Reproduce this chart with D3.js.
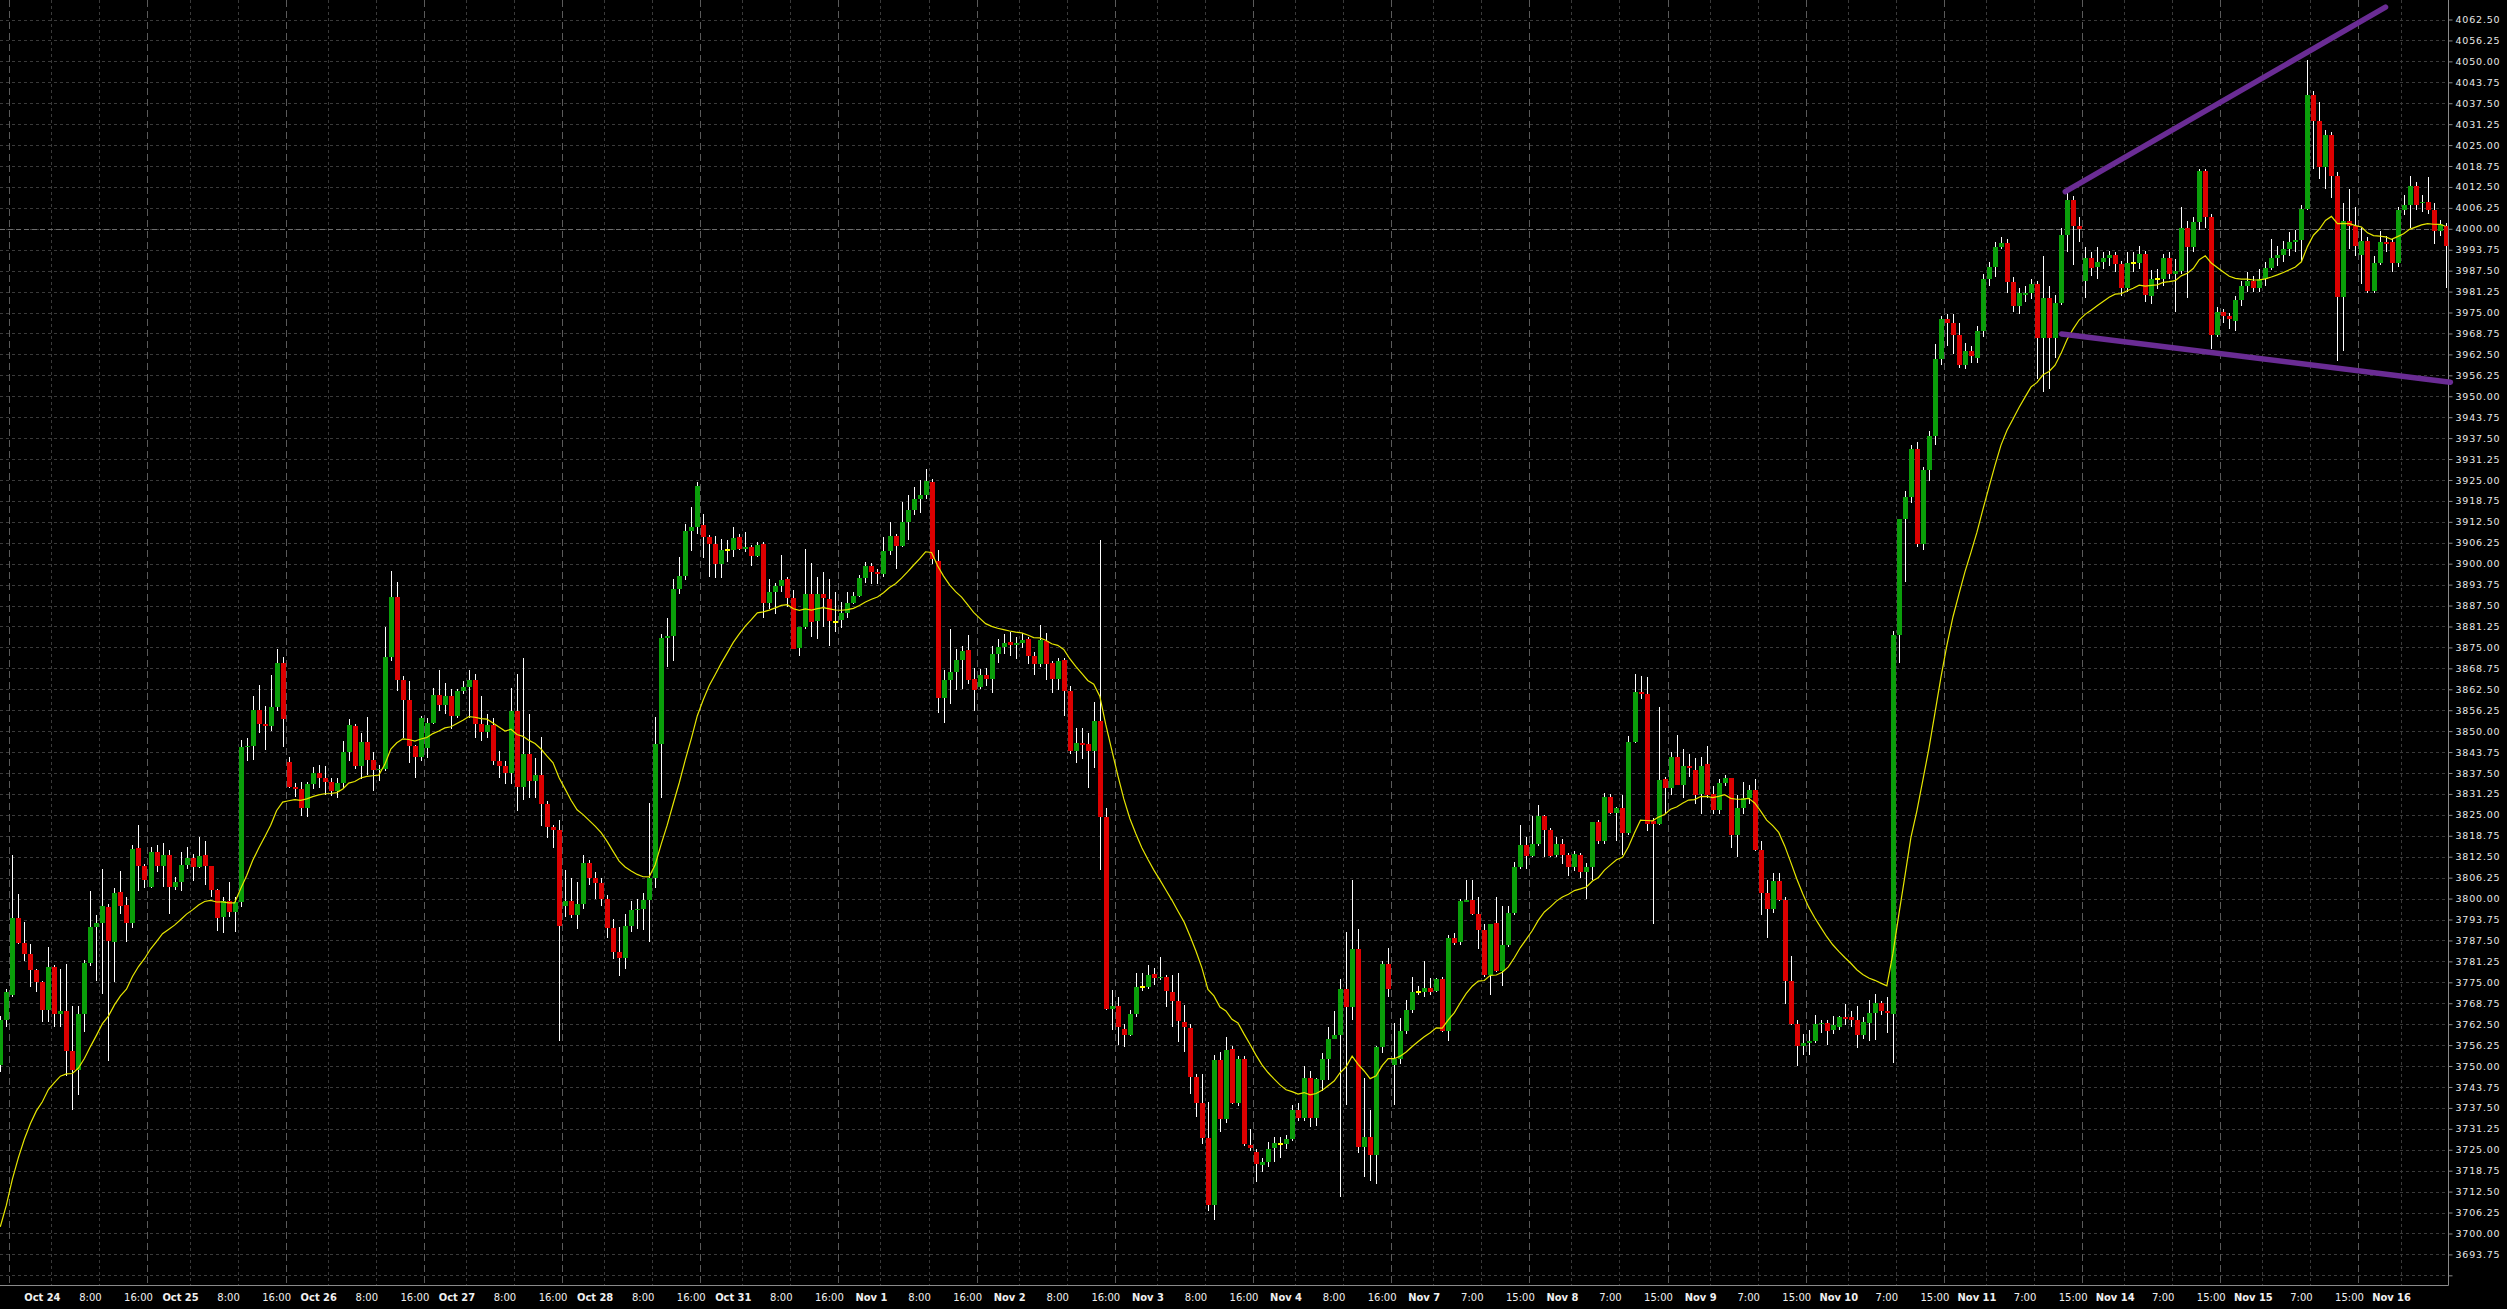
<!DOCTYPE html>
<html><head><meta charset="utf-8">
<script src="https://cdn.jsdelivr.net/npm/d3@7"></script>
<style>html,body{margin:0;padding:0;background:#000;overflow:hidden}</style>
</head><body>
<svg id="c" width="2507" height="1309"></svg>
<script>
// ---- DATA (hourly bars) ----
const open = [
3750.2,3763.6,3771.1,3794.3,3786.7,3783.6,3778.8,3775.2,3766.6,3779.5,
3765.6,3766.3,3754.6,3748.9,3765.6,3780.7,3791.4,3792.6,3797.6,3787.0,
3802.1,3798.2,3792.7,3815.0,3809.6,3803.4,3813.8,3809.6,3812.9,3803.6,
3804.9,3809.9,3812.0,3809.3,3812.9,3809.6,3802.7,3794.5,3799.4,3796.1,
3799.0,3845.2,3845.5,3856.4,3852.2,3851.6,3857.2,3870.4,3840.9,3833.4,
3832.8,3827.1,3834.2,3837.4,3836.0,3834.8,3832.0,3834.5,3843.7,3851.6,
3839.6,3846.8,3841.4,3838.3,3838.8,3872.2,3890.2,3865.4,3859.4,3845.5,
3842.4,3845.0,3852.5,3860.9,3857.7,3860.4,3854.6,3861.9,3863.2,3865.3,
3852.1,3849.6,3851.8,3841.1,3839.5,3837.6,3856.0,3833.2,3843.2,3835.1,
3836.9,3828.3,3821.4,3820.4,3797.8,3799.3,3795.2,3798.4,3810.6,3806.0,
3804.7,3800.0,3791.2,3784.0,3782.3,3791.8,3796.5,3796.8,3799.5,3806.2,
3846.3,3877.8,3878.5,3892.3,3896.4,3909.7,3910.9,3911.7,3907.9,3906.0,
3899.8,3904.2,3904.2,3907.9,3904.5,3904.9,3902.3,3906.0,3888.3,3891.6,
3893.4,3895.3,3889.8,3874.8,3881.2,3890.9,3882.9,3890.9,3889.4,3882.7,
3883.2,3885.4,3888.3,3890.4,3895.8,3899.3,3897.5,3896.8,3903.8,3908.4,
3905.4,3912.5,3916.1,3919.4,3920.6,3924.4,3900.8,3859.9,3865.3,3867.6,
3871.1,3874.1,3865.6,3863.1,3866.8,3865.6,3873.0,3875.1,3876.6,3875.7,
3876.3,3877.5,3872.3,3870.1,3877.0,3870.4,3865.6,3871.1,3861.9,3844.1,
3846.6,3846.3,3844.1,3853.0,3824.5,3767.1,3767.8,3761.2,3759.4,3765.6,
3773.5,3773.5,3777.6,3776.2,3776.5,3772.0,3769.5,3763.1,3761.3,3746.7,
3739.0,3728.6,3708.6,3751.7,3734.1,3755.2,3739.0,3752.2,3726.4,3724.2,
3720.4,3721.4,3725.5,3726.6,3726.6,3728.2,3736.9,3734.4,3746.5,3734.4,
3745.8,3752.0,3758.1,3759.2,3772.9,3767.5,3784.9,3725.9,3728.7,3723.4,
3755.7,3780.5,3750.2,3752.0,3760.6,3766.6,3772.1,3772.1,3773.2,3772.5,
3776.0,3760.6,3788.3,3786.9,3799.0,3799.5,3795.4,3790.6,3777.3,3792.6,
3778.3,3786.2,3795.6,3809.5,3816.0,3812.7,3816.4,3824.6,3820.4,3813.0,
3816.4,3813.0,3809.5,3813.0,3807.8,3809.3,3823.0,3817.1,3830.4,3825.7,
3827.0,3819.6,3846.8,3861.6,3861.0,3823.3,3822.3,3835.6,3833.1,3842.3,
3833.9,3839.7,3838.3,3831.1,3840.1,3831.1,3826.4,3834.5,3835.9,3819.0,
3827.0,3830.1,3832.4,3814.6,3801.7,3796.8,3805.2,3799.5,3775.5,3762.5,
3756.1,3757.0,3757.4,3762.5,3762.9,3760.9,3761.8,3764.7,3764.7,3763.6,
3759.2,3762.9,3765.7,3768.8,3766.4,3765.6,3878.8,3913.3,3920.0,3934.3,
3906.0,3928.0,3938.0,3961.1,3973.0,3972.0,3968.2,3959.4,3963.6,3961.5,
3969.5,3985.0,3988.7,3994.6,3995.8,3984.1,3976.8,3980.3,3980.8,3983.5,
3967.4,3979.3,3967.4,3977.8,3998.2,4008.6,4000.9,3984.5,3991.4,3988.7,
3990.2,3991.2,3992.3,3989.4,3982.4,3989.8,3989.8,3992.5,3979.9,3985.0,
3985.0,3991.2,3986.6,3987.5,4000.2,3994.6,4002.1,4017.2,4003.4,3968.2,
3975.1,3974.1,3972.4,3978.7,3982.9,3984.5,3982.4,3985.0,3988.3,3991.2,
3992.3,3994.0,3996.1,3996.7,4005.9,4040.0,4032.1,4018.5,4027.9,4015.9,
3979.7,4002.3,4000.9,3992.3,3996.5,3981.4,3989.8,3996.1,3996.1,3989.8,
4005.5,4007.2,4012.8,4007.6,4008.0,4005.5,3999.2,4000.9];
const high = [
3765.0,3773.1,3813.1,3801.4,3792.9,3786.3,3779.0,3775.5,3785.4,3780.3,
3779.0,3780.5,3767.8,3767.8,3781.7,3802.4,3795.0,3808.7,3798.4,3803.2,
3808.1,3800.4,3816.1,3822.1,3810.4,3815.4,3815.9,3816.7,3814.4,3806.4,
3813.9,3815.5,3813.4,3818.3,3817.3,3809.6,3802.9,3800.6,3805.1,3800.4,
3847.4,3848.1,3860.4,3863.8,3857.5,3866.7,3874.5,3872.2,3842.2,3834.6,
3834.9,3834.9,3839.3,3839.8,3839.5,3836.0,3836.0,3847.1,3853.7,3852.0,
3849.3,3854.1,3843.7,3840.0,3881.1,3897.7,3894.6,3866.5,3865.0,3846.0,
3854.5,3854.0,3862.9,3868.2,3864.4,3862.5,3862.5,3865.0,3868.2,3867.0,
3860.4,3855.0,3854.0,3844.0,3841.0,3863.0,3867.2,3871.8,3855.0,3842.0,
3848.3,3829.0,3822.0,3823.6,3808.5,3806.0,3805.0,3813.1,3811.6,3808.0,
3806.0,3801.0,3794.0,3791.5,3795.3,3799.3,3800.0,3801.7,3828.5,3854.2,
3879.0,3883.7,3895.3,3902.0,3911.9,3916.9,3924.4,3914.9,3908.7,3908.4,
3907.5,3907.2,3910.9,3909.0,3909.4,3905.6,3906.5,3906.5,3895.3,3894.1,
3902.7,3896.1,3892.0,3881.2,3904.5,3900.1,3896.1,3897.5,3895.3,3891.6,
3888.6,3891.6,3891.6,3896.5,3900.5,3900.1,3898.3,3907.9,3912.4,3909.0,
3918.3,3920.6,3922.8,3925.0,3928.3,3925.3,3904.2,3868.3,3880.5,3874.5,
3875.3,3878.7,3868.9,3868.6,3868.9,3875.3,3877.5,3879.0,3879.7,3878.2,
3879.3,3878.2,3873.5,3881.6,3879.3,3870.8,3871.8,3871.8,3863.4,3850.8,
3850.8,3849.3,3858.6,3907.2,3827.0,3772.8,3770.5,3762.4,3766.8,3777.9,
3777.9,3780.2,3779.4,3782.7,3777.2,3777.2,3777.9,3768.3,3762.5,3747.5,
3747.5,3739.3,3753.4,3754.2,3758.6,3756.0,3753.0,3753.0,3731.1,3725.2,
3722.5,3727.3,3728.7,3728.7,3729.3,3738.3,3738.9,3749.9,3748.5,3746.5,
3754.0,3761.6,3766.4,3776.0,3789.9,3805.4,3791.0,3746.5,3736.9,3756.0,
3781.4,3785.3,3762.9,3764.3,3769.8,3776.6,3773.9,3781.4,3776.2,3776.2,
3776.6,3789.0,3789.7,3799.9,3805.4,3805.4,3800.4,3792.4,3792.4,3800.4,
3797.9,3797.9,3810.9,3822.0,3818.5,3824.6,3827.8,3824.9,3821.0,3818.5,
3817.8,3813.7,3814.1,3813.7,3810.5,3823.0,3823.5,3831.5,3831.1,3827.4,
3830.8,3848.6,3867.1,3866.4,3866.2,3824.0,3857.1,3836.3,3843.8,3848.9,
3844.8,3843.1,3842.0,3842.4,3845.6,3833.5,3835.6,3837.0,3836.0,3830.8,
3834.9,3833.8,3835.6,3817.1,3805.4,3807.5,3807.5,3800.4,3782.8,3763.6,
3759.5,3760.9,3765.3,3763.6,3763.6,3765.0,3765.0,3768.4,3766.4,3768.0,
3764.6,3769.8,3771.6,3769.4,3770.5,3880.0,3913.3,3921.7,3935.3,3936.4,
3929.0,3939.5,3965.7,3974.1,3974.5,3974.5,3972.0,3966.0,3965.0,3970.9,
3986.6,3990.0,3996.1,3997.5,3997.1,3985.6,3982.4,3983.0,3985.0,3984.5,
3991.9,3982.9,3980.3,4000.2,4011.3,4009.7,4003.4,3994.6,3993.0,3994.5,
3993.0,3993.5,3993.0,3990.5,3993.0,3993.0,3995.0,3993.3,3987.6,3988.0,
3992.5,3993.0,3991.0,4006.5,4002.3,4003.4,4018.0,4018.0,4004.4,3976.6,
3976.0,3975.0,3980.0,3984.5,3987.0,3986.0,3988.0,3990.0,3997.1,3995.0,
3996.5,3999.0,3999.5,4007.0,4050.5,4041.1,4037.9,4029.6,4028.9,4017.0,
4007.6,4011.8,4006.5,4000.2,3997.5,3991.9,3999.2,3998.0,3997.1,4006.5,
4010.0,4015.9,4013.9,4010.0,4015.5,4007.6,4002.5,4001.7];
const low = [
3748.2,3761.8,3770.6,3786.5,3781.3,3773.6,3772.1,3763.1,3763.1,3761.6,
3761.6,3746.9,3737.0,3741.4,3760.1,3780.0,3775.5,3771.4,3751.5,3775.1,
3795.3,3787.0,3791.2,3802.2,3803.1,3803.2,3807.9,3803.4,3795.4,3802.6,
3802.4,3808.7,3805.2,3809.2,3804.2,3800.4,3790.2,3789.7,3794.5,3790.0,
3797.5,3841.1,3841.5,3849.3,3844.3,3849.9,3856.0,3845.3,3833.0,3830.2,
3824.8,3824.4,3832.7,3833.0,3831.0,3830.5,3830.0,3833.0,3841.0,3838.6,
3835.8,3836.8,3832.0,3835.0,3838.0,3871.0,3862.1,3848.1,3840.5,3836.1,
3841.0,3842.0,3852.0,3856.0,3855.0,3850.6,3854.0,3861.0,3854.0,3848.1,
3847.0,3848.0,3840.0,3836.0,3834.2,3834.2,3826.3,3829.5,3830.1,3830.0,
3821.7,3818.2,3815.0,3757.6,3794.6,3794.3,3790.8,3797.0,3804.0,3800.0,
3797.8,3788.3,3782.1,3777.0,3779.0,3790.0,3791.0,3790.6,3786.9,3803.2,
3829.9,3869.3,3870.8,3891.0,3895.0,3903.9,3909.0,3901.7,3896.1,3895.6,
3895.6,3900.5,3902.0,3904.2,3903.5,3899.3,3902.0,3883.7,3886.4,3884.9,
3891.5,3887.1,3874.5,3872.3,3880.5,3878.2,3877.5,3881.2,3875.3,3879.7,
3880.8,3883.7,3888.0,3890.1,3894.1,3893.8,3893.8,3896.1,3902.7,3898.3,
3905.0,3907.2,3914.6,3915.0,3919.4,3899.8,3855.5,3852.5,3858.2,3862.3,
3862.6,3864.1,3856.0,3862.6,3863.4,3861.4,3870.3,3873.0,3872.3,3871.5,
3874.8,3870.1,3866.8,3869.3,3865.3,3861.4,3862.3,3854.5,3843.3,3840.4,
3841.8,3832.9,3838.9,3808.4,3766.8,3760.9,3756.4,3755.7,3759.0,3764.5,
3772.3,3773.0,3774.3,3775.8,3767.6,3761.6,3757.2,3754.2,3741.5,3734.9,
3726.7,3706.6,3704.0,3730.4,3733.0,3738.6,3738.1,3726.2,3724.5,3715.5,
3718.4,3719.7,3721.4,3722.5,3725.2,3727.7,3733.5,3733.5,3731.8,3732.1,
3742.4,3745.8,3758.1,3710.8,3738.3,3763.6,3723.9,3717.0,3715.6,3714.9,
3754.0,3770.5,3738.3,3750.6,3759.5,3765.7,3771.2,3770.5,3771.2,3772.0,
3760.2,3757.4,3786.2,3786.2,3799.0,3795.1,3784.9,3776.6,3771.2,3778.0,
3773.9,3785.6,3795.1,3808.9,3808.9,3812.3,3815.7,3812.3,3812.3,3812.3,
3810.2,3806.8,3808.2,3806.1,3799.9,3805.4,3816.4,3816.4,3825.3,3817.1,
3813.0,3819.1,3846.6,3859.6,3820.1,3792.4,3821.9,3825.3,3830.8,3833.8,
3830.1,3836.3,3828.1,3825.3,3829.9,3825.3,3825.3,3833.5,3815.0,3812.3,
3825.3,3828.1,3814.3,3795.1,3788.3,3795.8,3799.3,3768.4,3762.2,3749.9,
3753.3,3753.3,3756.8,3759.8,3756.4,3759.5,3760.9,3762.2,3761.6,3755.4,
3758.1,3757.4,3757.9,3765.3,3759.8,3751.0,3870.4,3894.5,3918.0,3904.9,
3904.0,3924.8,3935.3,3959.4,3965.0,3962.5,3958.4,3958.0,3960.0,3959.8,
3967.8,3983.0,3985.6,3994.0,3980.8,3975.1,3974.5,3978.0,3979.0,3955.2,
3951.4,3952.1,3961.5,3977.2,3993.0,3989.1,3996.1,3979.3,3986.0,3985.0,
3988.0,3989.0,3987.0,3980.0,3981.0,3987.0,3988.0,3978.0,3977.5,3982.0,
3983.0,3985.0,3975.1,3986.6,3979.3,3993.0,3999.6,4000.2,3964.2,3967.8,
3972.0,3970.0,3969.5,3977.0,3981.0,3981.0,3981.0,3983.0,3987.7,3989.0,
3990.0,3992.0,3993.0,3990.0,4005.5,4018.0,4014.9,4011.8,4009.3,3960.4,
3963.6,3994.0,3991.9,3983.5,3980.8,3980.8,3989.1,3993.0,3987.1,3988.7,
4004.0,4000.2,4005.5,4005.0,4004.4,3995.4,3998.0,3982.4];
const close = [
3763.6,3772.0,3794.3,3786.7,3783.6,3778.8,3775.2,3766.6,3779.5,3765.6,
3766.3,3754.6,3748.9,3765.6,3780.7,3791.4,3792.6,3797.8,3787.2,3801.8,
3797.9,3792.7,3814.7,3809.6,3805.4,3813.8,3809.6,3812.9,3803.6,3804.9,
3809.9,3812.0,3809.3,3812.6,3809.6,3802.7,3794.2,3799.4,3795.9,3798.9,
3845.2,3845.5,3856.4,3852.2,3851.6,3857.2,3870.4,3853.6,3833.4,3832.8,
3827.1,3834.2,3837.4,3836.0,3834.8,3832.0,3834.5,3843.7,3851.8,3839.6,
3846.8,3841.4,3838.3,3838.8,3872.2,3890.2,3865.4,3859.4,3845.5,3842.4,
3854.0,3852.5,3860.9,3857.7,3860.4,3854.6,3861.9,3863.2,3865.3,3852.1,
3849.6,3851.8,3841.1,3839.5,3837.6,3856.0,3833.2,3843.2,3835.1,3836.9,
3828.3,3821.4,3820.4,3791.8,3799.3,3795.2,3798.4,3810.6,3806.0,3804.7,
3800.0,3791.2,3784.0,3782.3,3791.8,3796.5,3796.8,3799.5,3806.2,3846.3,
3877.8,3878.5,3892.3,3896.4,3909.7,3910.9,3923.2,3907.9,3906.0,3899.8,
3904.2,3904.2,3907.6,3904.5,3904.9,3902.3,3905.7,3888.3,3891.6,3893.4,
3895.0,3889.8,3874.5,3881.2,3890.9,3882.7,3890.9,3889.7,3883.0,3882.7,
3885.4,3888.3,3890.4,3895.8,3899.3,3897.5,3896.8,3903.8,3908.4,3905.4,
3912.5,3916.1,3919.4,3920.6,3924.7,3901.3,3859.9,3865.3,3867.6,3871.1,
3873.8,3865.3,3862.2,3866.8,3865.6,3873.0,3875.1,3876.3,3875.7,3876.3,
3877.2,3872.3,3870.1,3877.2,3870.1,3865.6,3870.8,3861.9,3844.1,3846.6,
3846.0,3844.1,3853.0,3824.5,3767.1,3768.0,3761.6,3759.4,3765.6,3773.5,
3773.5,3777.2,3776.2,3776.5,3772.3,3769.5,3763.5,3761.6,3746.7,3739.0,
3728.6,3708.6,3751.7,3734.1,3754.9,3739.0,3752.2,3726.7,3725.6,3720.7,
3721.4,3725.2,3727.0,3726.6,3728.2,3736.9,3734.4,3746.5,3734.4,3746.1,
3752.0,3758.1,3759.2,3772.9,3767.5,3784.9,3725.9,3728.7,3723.4,3755.7,
3780.5,3772.9,3752.0,3760.6,3766.6,3772.1,3772.1,3773.2,3772.1,3776.0,
3760.6,3788.3,3786.6,3799.3,3799.5,3795.4,3790.6,3777.3,3792.4,3778.3,
3786.2,3795.6,3809.5,3816.0,3812.7,3816.4,3824.6,3820.4,3812.7,3816.4,
3813.0,3809.5,3813.2,3807.8,3809.3,3823.0,3817.1,3830.4,3825.7,3827.0,
3819.6,3846.8,3861.6,3861.0,3822.2,3822.2,3835.5,3833.1,3842.3,3833.9,
3839.7,3839.0,3830.8,3839.7,3830.8,3826.4,3834.5,3835.9,3819.0,3827.0,
3830.1,3832.4,3814.6,3801.7,3796.8,3805.2,3799.5,3775.5,3762.5,3756.1,
3756.8,3757.4,3762.5,3762.9,3760.6,3762.2,3764.6,3764.0,3763.6,3759.2,
3763.2,3765.7,3768.8,3766.4,3765.7,3878.8,3913.3,3920.0,3934.3,3906.0,
3928.0,3938.0,3961.1,3973.0,3972.0,3968.2,3959.4,3963.6,3961.9,3969.5,
3985.0,3988.7,3994.6,3995.8,3984.1,3976.8,3980.8,3980.8,3983.5,3967.4,
3979.3,3967.4,3977.8,3998.2,4008.6,4000.9,3999.8,3991.4,3988.3,3990.2,
3991.2,3992.3,3989.4,3982.4,3989.8,3989.8,3992.5,3980.3,3985.0,3985.0,
3991.2,3986.6,3987.5,4000.2,3994.6,4002.1,4017.2,4003.4,3968.2,3975.1,
3974.1,3973.0,3978.7,3982.9,3984.5,3982.4,3985.0,3988.3,3991.2,3992.3,
3994.0,3996.1,3996.7,4005.9,4040.0,4032.1,4018.5,4027.9,4015.9,3979.7,
4002.3,4000.9,3995.0,3996.5,3981.4,3989.8,3996.1,3995.4,3989.8,4005.5,
4007.2,4012.8,4007.2,4008.0,4005.5,3999.2,4001.3,3995.0];

// moving average settings (EMA), first value
const maPeriod = 21;
const maSeed = 3702;

// day labels, first bar of each day, and the two intraday labels of each day
const dayLabels = ["Oct 24","Oct 25","Oct 26","Oct 27","Oct 28","Oct 31","Nov 1","Nov 2","Nov 3","Nov 4",
                   "Nov 7","Nov 8","Nov 9","Nov 10","Nov 11","Nov 14","Nov 15","Nov 16"];
const dayStartBar = [2,25,48,71,94,117,140,163,186,209,232,255,278,301,324,347,370,393];
const dayTimeLabels = [["8:00","16:00"],["8:00","16:00"],["8:00","16:00"],["8:00","16:00"],["8:00","16:00"],
                       ["8:00","16:00"],["8:00","16:00"],["8:00","16:00"],["8:00","16:00"],["8:00","16:00"],
                       ["7:00","15:00"],["7:00","15:00"],["7:00","15:00"],["7:00","15:00"],["7:00","15:00"],
                       ["7:00","15:00"],["7:00","15:00"],["7:00","15:00"]];

// price axis tick values
const priceTicks = [3687.50,3693.75,3700.00,3706.25,3712.50,3718.75,3725.00,3731.25,3737.50,3743.75,
  3750.00,3756.25,3762.50,3768.75,3775.00,3781.25,3787.50,3793.75,3800.00,3806.25,3812.50,3818.75,
  3825.00,3831.25,3837.50,3843.75,3850.00,3856.25,3862.50,3868.75,3875.00,3881.25,3887.50,3893.75,
  3900.00,3906.25,3912.50,3918.75,3925.00,3931.25,3937.50,3943.75,3950.00,3956.25,3962.50,3968.75,
  3975.00,3981.25,3987.50,3993.75,4000.00,4006.25,4012.50,4018.75,4025.00,4031.25,4037.50,4043.75,
  4050.00,4056.25,4062.50];

// horizontal level line and the two drawn trend lines [bar, price]
const levelLine = 4000.00;
const trendUpper = [[343.7, 4011.1],[397.0, 4066.2]];
const trendLower = [[343.1, 3968.6],[407.8, 3954.2]];

// ---- DRAWING ----
const W = 2507, H = 1309, plotR = 2448, plotB = 1285;
const svg = d3.select("#c");
svg.append("rect").attr("width", W).attr("height", H).attr("fill", "#000");
svg.append("defs").append("clipPath").attr("id", "plot")
  .append("rect").attr("x", 0).attr("y", 0).attr("width", plotR).attr("height", plotB);

const x = d3.scaleLinear().domain([0, 407]).range([0.3, 2445.6]);
const y = d3.scaleLinear().domain([3693.75, 4062.5]).range([1254.4, 19.5]);

const g = svg.append("g").attr("clip-path", "url(#plot)");

// horizontal grid
g.append("g").selectAll("line").data(priceTicks).join("line")
  .attr("x1", 0).attr("x2", plotR)
  .attr("y1", d => Math.round(y(d)) + 0.5).attr("y2", d => Math.round(y(d)) + 0.5)
  .attr("stroke", "#3a3a3a").attr("stroke-width", 1).attr("stroke-dasharray", "3,3");

// vertical grid + day separators
const vGrid = [], vSep = [];
dayStartBar.forEach(ds => { vSep.push(ds - 0.5); vGrid.push(ds + 6.5, ds + 14.5); });
g.append("g").selectAll("line").data(vGrid.filter(b => x(b) < plotR - 1)).join("line")
  .attr("x1", d => Math.round(x(d)) + 0.5).attr("x2", d => Math.round(x(d)) + 0.5)
  .attr("y1", 0).attr("y2", plotB)
  .attr("stroke", "#3a3a3a").attr("stroke-dasharray", "3,3");
g.append("g").selectAll("line").data(vSep).join("line")
  .attr("x1", d => Math.round(x(d)) + 0.5).attr("x2", d => Math.round(x(d)) + 0.5)
  .attr("y1", 0).attr("y2", plotB)
  .attr("stroke", "#5a5a5a").attr("stroke-dasharray", "7,4");

// level line
g.append("line").attr("x1", 0).attr("x2", plotR)
  .attr("y1", Math.round(y(levelLine)) + 0.5).attr("y2", Math.round(y(levelLine)) + 0.5)
  .attr("stroke", "#6e6e6e").attr("stroke-dasharray", "5,3");

const bars = close.map((c, i) => ({ i, o: open[i], h: high[i], l: low[i], c }));

// wicks
g.append("g").attr("shape-rendering", "crispEdges").selectAll("line").data(bars).join("line")
  .attr("x1", d => Math.round(x(d.i)) + 0.5).attr("x2", d => Math.round(x(d.i)) + 0.5)
  .attr("y1", d => y(Math.max(d.h, d.o, d.c))).attr("y2", d => y(Math.min(d.l, d.o, d.c)))
  .attr("stroke", "#ffffff").attr("stroke-width", 1);

// bodies
g.append("g").attr("shape-rendering", "crispEdges").selectAll("rect").data(bars).join("rect")
  .attr("x", d => Math.round(x(d.i)) - 2)
  .attr("width", 5)
  .attr("y", d => Math.abs(d.o - d.c) < 0.05 ? Math.round(y(d.c)) - 1 : y(Math.max(d.o, d.c)))
  .attr("height", d => Math.abs(d.o - d.c) < 0.05 ? 2 : Math.max(1, y(Math.min(d.o, d.c)) - y(Math.max(d.o, d.c))))
  .attr("fill", d => Math.abs(d.o - d.c) < 0.05 ? "#ffff00" : (d.c > d.o ? "#0a9e0a" : "#dc0000"));

// EMA line
const k = 2 / (maPeriod + 1);
const ma = [];
close.forEach((c, i) => { ma.push(i === 0 ? maSeed : ma[i - 1] + k * (c - ma[i - 1])); });
g.append("path").datum(ma)
  .attr("d", d3.line().x((d, i) => x(i)).y(d => y(d)))
  .attr("fill", "none").attr("stroke", "#e6e600").attr("stroke-width", 1.2);

// frame lines
svg.append("line").attr("x1", plotR + 0.5).attr("x2", plotR + 0.5).attr("y1", 0).attr("y2", plotB + 0.5)
  .attr("stroke", "#8a8a8a");
svg.append("line").attr("x1", 0).attr("x2", plotR + 0.5).attr("y1", plotB + 0.5).attr("y2", plotB + 0.5)
  .attr("stroke", "#8a8a8a");

// price axis
const yAxis = svg.append("g").attr("transform", `translate(${plotR + 0.5},0)`)
  .call(d3.axisRight(y).tickValues(priceTicks).tickSize(4).tickPadding(3)
    .tickFormat(d => d < 3690 ? "" : d3.format(".2f")(d)));
yAxis.select(".domain").remove();
yAxis.selectAll(".tick line").attr("stroke", "#8a8a8a");
yAxis.selectAll(".tick text").attr("fill", "#e8e8e8")
  .style("font-family", "'DejaVu Sans', Verdana, sans-serif").style("font-size", "9.5px")
  .style("letter-spacing", "0.8px");

// time axis labels
const xl = svg.append("g");
dayLabels.forEach((lab, k2) => {
  const ds = dayStartBar[k2];
  const items = [[ds + 5, lab, true], [ds + 13, dayTimeLabels[k2][0], false], [ds + 21, dayTimeLabels[k2][1], false]];
  items.forEach(([b, t, bold]) => {
    if (x(b) > 2425) return;
    xl.append("text").attr("x", x(b)).attr("y", 1297)
      .attr("text-anchor", "middle").attr("dominant-baseline", "central")
      .attr("fill", "#f0f0f0")
      .style("font-family", bold ? "'DejaVu Sans Condensed','DejaVu Sans',sans-serif" : "'DejaVu Sans',sans-serif")
      .style("font-weight", bold ? "bold" : "normal")
      .style("font-size", bold ? "11px" : "10px")
      .text(t);
  });
});

// trend lines
const tl = d3.line().x(d => x(d[0])).y(d => y(d[1]));
[trendUpper, trendLower].forEach(t => {
  svg.append("path").datum(t).attr("d", tl)
    .attr("fill", "none").attr("stroke", "#6a2c94").attr("stroke-width", 5.5)
    .attr("stroke-linecap", "round");
});
</script>
</body></html>
